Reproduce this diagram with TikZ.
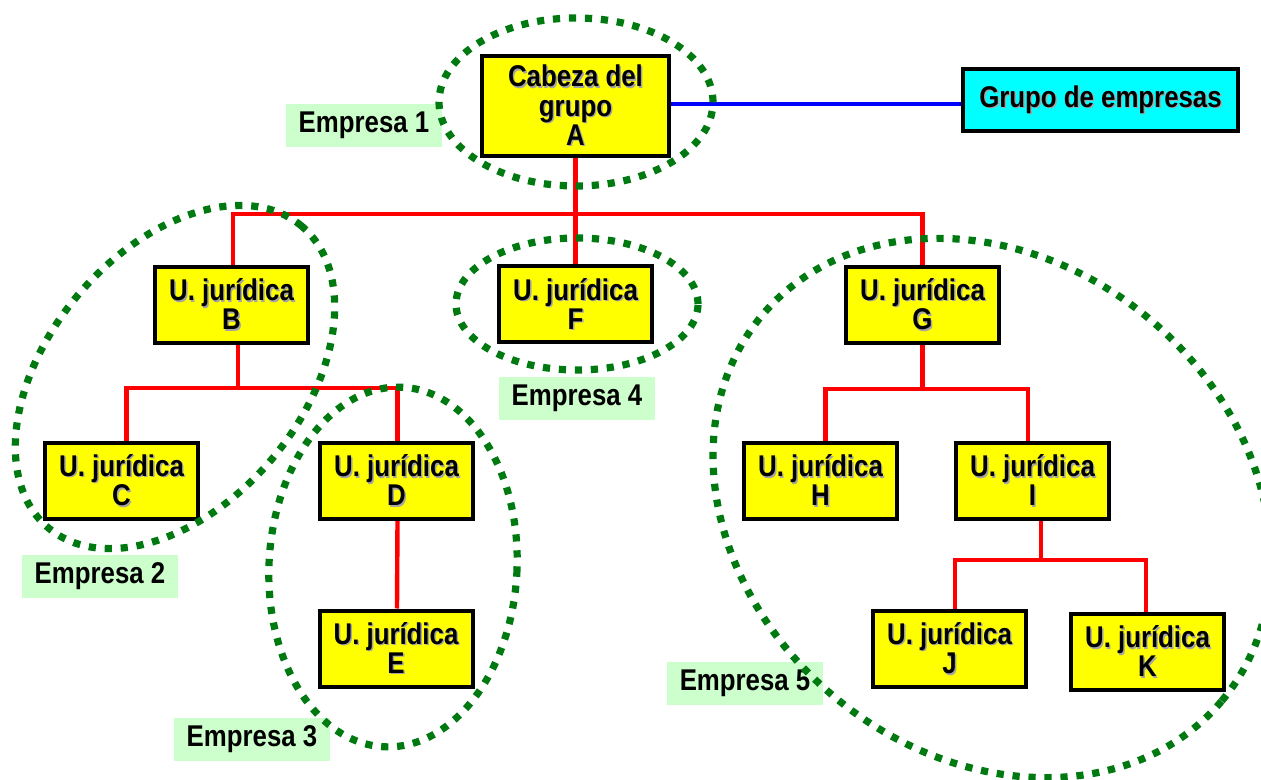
\documentclass[tikz,border=0pt]{standalone}
\usepackage{fontspec}
\newfontfamily\narrowfont{Liberation Sans}[FakeStretch=0.86]
\definecolor{dotgreen}{RGB}{0,122,16}
\definecolor{labgreen}{RGB}{204,255,204}
\definecolor{boxyellow}{RGB}{255,255,0}
\definecolor{boxcyan}{RGB}{0,255,255}
\definecolor{shadowgray}{RGB}{165,165,165}
\definecolor{linered}{RGB}{255,0,0}
\definecolor{lineblue}{RGB}{0,0,255}
\newcommand\shd[1]{\leavevmode\rlap{\kern1.1pt\raisebox{-1.1pt}{\textcolor{shadowgray}{#1}}}#1}
\newcommand\uj[1]{\shd{U. jurídica}\\\shd{#1}}
\pgfdeclarelayer{connlayer}
\pgfdeclarelayer{toplayer}
\pgfsetlayers{connlayer,main,toplayer}
\begin{document}
\begin{tikzpicture}[x=0.75pt,y=-0.75pt,
  every node/.style={font=\narrowfont\bfseries\fontsize{22.5}{22}\selectfont},
  unitbox/.style={draw=black,line width=3pt,fill=boxyellow,minimum width=114.75pt,
    minimum height=57pt,inner sep=0pt,align=center},
  headbox/.style={unitbox,minimum width=140.25pt,minimum height=75pt},
  groupbox/.style={draw=black,line width=3pt,fill=boxcyan,minimum width=206.25pt,
    minimum height=46.5pt,inner sep=0pt,align=center},
  lab/.style={fill=labgreen,minimum width=117pt,minimum height=32.25pt,inner sep=0pt},
  redline/.style={draw=linered,line width=3.3pt},
  blueline/.style={draw=lineblue,line width=3.3pt},
  company/.style={draw=dotgreen,line width=5.4pt,dash pattern=on 5.4pt off 6.6pt}]
\useasboundingbox (0,0) rectangle (1261,780);
\clip (0,0) rectangle (1261,780);

% boxes
\node[headbox] (A) at (575.5,106) {\shd{Cabeza del}\\\shd{grupo}\\\shd{A}};
\node[groupbox] (grupo) at (1100.5,100) {\shd{Grupo de empresas}};
\node[unitbox] (B) at (231.5,305) {\uj{B}};
\node[unitbox] (C) at (121.5,481) {\uj{C}};
\node[unitbox] (D) at (396.5,481) {\uj{D}};
\node[unitbox] (E) at (396,648.5) {\uj{E}};
\node[unitbox] (F) at (575.5,304.5) {\uj{F}};
\node[unitbox] (G) at (922.5,305) {\uj{G}};
\node[unitbox] (H) at (820.5,481) {\uj{H}};
\node[unitbox] (I) at (1032.5,481) {\uj{I}};
\node[unitbox] (J) at (949.5,649) {\uj{J}};
\node[unitbox] (K) at (1147.5,652) {\uj{K}};

% labels
\node[lab] (e1) at (364,125.5) {Empresa 1};
\node[lab] (e2) at (100,576.5) {Empresa 2};
\node[lab] (e3) at (252,739.5) {Empresa 3};
\node[lab] (e4) at (577,398.5) {Empresa 4};
\node[lab] (e5) at (745,683) {Empresa 5};

% connectors (behind boxes)
\coordinate (jA) at (575.5,214);
\coordinate (jB) at (238,388);
\coordinate (jG) at (922.5,389);
\coordinate (jI) at (1041,560);
\begin{pgfonlayer}{connlayer}
\draw[blueline] ([yshift=1.5pt]A.east) -- ([yshift=1.5pt]A.east -| grupo.west);
\draw[redline] (A.south) -- (jA);
\draw[redline] ([xshift=1.2pt]B.north) |- (jA) -| (G.north);
\draw[redline] (jA) -- (F.north);
\draw[redline] (B.south -| jB) -- (jB);
\draw[redline] ([xshift=3.75pt]C.north) |- (jB) -| ([xshift=0.75pt]D.north);
\draw[redline] ([xshift=0.75pt]D.south) -- ([xshift=0.75pt]E.north);
\draw[redline] (G.south) -- (jG);
\draw[redline] ([xshift=3.75pt]H.north) |- (jG) -| ([xshift=-3.4pt]I.north);
\draw[redline] (I.south -| jI) -- (jI);
\draw[redline] ([xshift=4pt]J.north) |- (jI) -| ([xshift=-1.1pt]K.north);
\end{pgfonlayer}

% company ellipses (on top)
\begin{pgfonlayer}{toplayer}
\draw[company] (576,102) ellipse [x radius=102.75pt, y radius=63pt];
\draw[company, rotate around={50:(175,377)}] (175,377) ellipse [x radius=147.75pt, y radius=95.25pt];
\draw[company, rotate around={-3:(393,567)}] (393,567) ellipse [x radius=93pt, y radius=135pt];
\draw[company] (577,304) ellipse [x radius=90.75pt, y radius=49.5pt];
\draw[company, rotate around={-40:(992,508)}] (992,508) ellipse [x radius=225pt, y radius=184.5pt];
\end{pgfonlayer}
\end{tikzpicture}
\end{document}
